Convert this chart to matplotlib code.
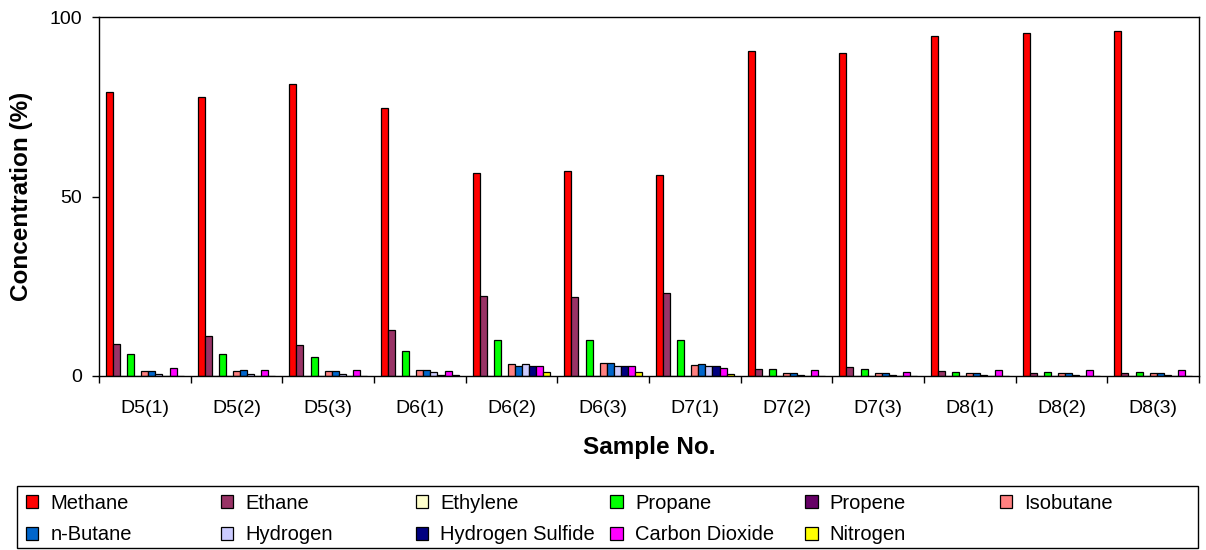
import numpy as np
import matplotlib
matplotlib.use("Agg")
import matplotlib.pyplot as plt
from matplotlib.patches import Rectangle

plt.rcParams['font.family'] = ['Liberation Sans', 'DejaVu Sans']

samples = ["D5(1)", "D5(2)", "D5(3)", "D6(1)", "D6(2)", "D6(3)",
           "D7(1)", "D7(2)", "D7(3)", "D8(1)", "D8(2)", "D8(3)"]

methane = [79.1, 77.7, 81.3, 74.7, 56.5, 57.1, 56.0, 90.5, 90.0, 94.7, 95.5, 96.1]
ethane = [9.0, 11.1, 8.5, 12.9, 22.4, 22.0, 23.1, 2.0, 2.4, 1.3, 0.9, 0.9]
ethylene = [0, 0, 0, 0, 0, 0, 0, 0, 0, 0, 0, 0]
propane = [6.0, 6.0, 5.3, 7.1, 10.1, 10.1, 9.9, 2.0, 2.0, 1.2, 1.2, 1.2]
propene = [0, 0, 0, 0, 0, 0, 0, 0, 0, 0, 0, 0]
isobutane = [1.4, 1.4, 1.4, 1.8, 3.25, 3.6, 3.1, 0.84, 0.84, 0.84, 0.84, 0.84]
n_butane = [1.4, 1.8, 1.4, 1.8, 2.9, 3.6, 3.4, 0.84, 0.84, 0.84, 0.84, 0.84]
hydrogen = [0.65, 0.65, 0.65, 1.0, 3.25, 2.9, 2.7, 0.3, 0.3, 0.3, 0.3, 0.3]
hydrogen_sulfide = [0, 0, 0, 0.4, 2.9, 2.9, 2.8, 0, 0, 0, 0, 0]
carbon_dioxide = [2.1, 1.8, 1.8, 1.4, 2.9, 2.9, 2.3, 1.6, 1.2, 1.6, 1.6, 1.6]
nitrogen = [0, 0, 0, 0.4, 1.0, 1.0, 0.56, 0, 0, 0, 0, 0]

gas_names = ["Methane", "Ethane", "Ethylene", "Propane", "Propene", "Isobutane",
             "n-Butane", "Hydrogen", "Hydrogen Sulfide", "Carbon Dioxide", "Nitrogen"]
gas_values = [methane, ethane, ethylene, propane, propene, isobutane,
              n_butane, hydrogen, hydrogen_sulfide, carbon_dioxide, nitrogen]
gas_colors = ["#FF0000", "#993366", "#FFFFCC", "#00FF00", "#660066", "#FF8080",
              "#0066CC", "#CCCCFF", "#000080", "#FF00FF", "#FFFF00"]

W, H = 1206, 550
fig = plt.figure(figsize=(W / 100, H / 100), dpi=100)
ax = fig.add_axes([99 / W, 1 - 376 / H, (1199 - 99) / W, (376 - 17) / H])

n_series = len(gas_names)
x = np.arange(len(samples))
bar_w = 1.0 / (n_series + 2)
handles = []
for k, (name, vals, col) in enumerate(zip(gas_names, gas_values, gas_colors)):
    offs = (k - (n_series - 1) / 2) * bar_w
    b = ax.bar(x + offs, vals, width=bar_w, color=col, edgecolor="black",
               linewidth=0.9, label=name)
    handles.append(b)

ax.set_xlim(-0.5, len(samples) - 0.5)
ax.set_ylim(0, 100)
ax.set_yticks([0, 50, 100])
ax.tick_params(axis="y", direction="out", length=5, width=1, pad=7, labelsize=14)

# category boundaries carry the tick marks, category centres carry the labels
ax.set_xticks(np.arange(-0.5, len(samples), 1.0))
ax.set_xticklabels([])
ax.set_xticks(x, minor=True)
ax.set_xticklabels(samples, minor=True)
ax.tick_params(axis="x", which="major", direction="out", length=5, width=1)
ax.tick_params(axis="x", which="minor", length=0, pad=17, labelsize=14)

for s in ax.spines.values():
    s.set_linewidth(1)
    s.set_color("black")

ax.set_xlabel("Sample No.", fontsize=17.5, fontweight="bold", labelpad=14)
ax.set_ylabel("Concentration (%)", fontsize=17.5, fontweight="bold", labelpad=12)

# legend: a framed box with six evenly spaced columns, filled row by row
box_x0, box_x1, box_y0, box_y1 = 17, 1198, 486, 548
fig.add_artist(Rectangle((box_x0 / W, 1 - box_y1 / H),
                         (box_x1 - box_x0) / W, (box_y1 - box_y0) / H,
                         transform=fig.transFigure, facecolor="white",
                         edgecolor="black", linewidth=1, zorder=1))
ncol = 6
col_x0, col_step = 26, 194.8
for j in range(ncol):
    idx = [i for i in (j, j + ncol) if i < n_series]
    fig.legend(handles=[handles[i] for i in idx],
               labels=[gas_names[i] for i in idx],
               loc="upper left",
               bbox_to_anchor=((col_x0 + j * col_step) / W, 1 - 494 / H),
               bbox_transform=fig.transFigure,
               fontsize=14.5, handlelength=0.62, handleheight=0.62,
               handletextpad=0.6, labelspacing=0.62, borderpad=0,
               borderaxespad=0, frameon=False)

fig.savefig("out.png", dpi=100)
